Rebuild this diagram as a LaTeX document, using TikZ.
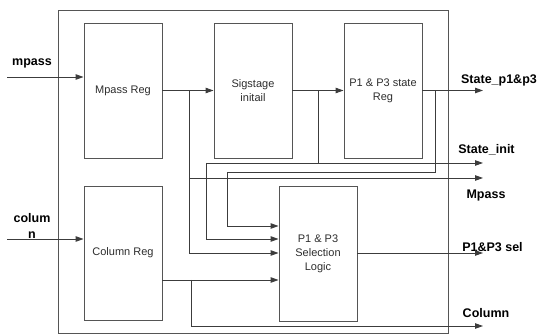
\documentclass[tikz,border=0pt]{standalone}
\usepackage{fontspec}
\setmainfont{Liberation Sans}
\usetikzlibrary{arrows.meta,calc}
\definecolor{wirec}{RGB}{60,60,60}
\definecolor{boxc}{RGB}{85,85,85}
\definecolor{textc}{RGB}{45,45,45}
\begin{document}
\begin{tikzpicture}[x=1pt,y=-1pt,
 wire/.style={draw=wirec, line width=0.9pt},
 arr/.style={wire, -{Triangle[length=8pt,width=5.5pt]}},
 blk/.style={draw=boxc, line width=0.9pt, minimum width=78pt, inner sep=0pt, align=center, font=\fontsize{11}{14}\selectfont, text=textc},
 lbl/.style={font=\bfseries\fontsize{12.5}{16.5}\selectfont, align=center, inner sep=0pt}]
\useasboundingbox (0,0) rectangle (540,336);
% outer frame
\node[draw=boxc, line width=0.9pt, minimum width=390pt, minimum height=323pt, anchor=north west, inner sep=0pt] (outer) at (58,10) {};
% blocks
\node[blk, minimum height=135pt] (mreg) at (123,90.5) {Mpass Reg};
\node[blk, minimum height=135pt] (sig) at (253,90.5) {Sigstage\\initail};
\node[blk, minimum height=135pt] (preg) at (383,90.5) {P1 \& P3 state\\Reg};
\node[blk, minimum height=134pt] (creg) at (123,253) {Column Reg};
\node[blk, minimum height=135pt] (sel) at (318,253.5) {P1 \& P3\\Selection\\Logic};
% labels
\node[lbl] (lmpass) at (32,63) {mpass};
\node[lbl] (lcol) at (32,226) {colum\\n};
\node[lbl] (lsp) at (499,80) {State\_p1\&p3};
\node[lbl] (lsi) at (486.5,150) {State\_init};
\node[lbl] (lmp) at (486,195) {Mpass};
\node[lbl] (lsel) at (492.5,247) {P1\&P3 sel};
\node[lbl] (lcolumn) at (486,313) {Column};
% coordinates
\coordinate (inM) at (7,77);
\coordinate (inC) at (7,239);
\coordinate (oSP) at (483,90.5);
\coordinate (oSI) at (483,163);
\coordinate (oMP) at (483,178);
\coordinate (oSEL) at (483,253);
\coordinate (oCOL) at (483,326);
\coordinate (bM) at (189,90.5);
\coordinate (bS) at (318,90.5);
\coordinate (bP) at (435,90.5);
\coordinate (sI) at (206,163);
\coordinate (pI) at (227,172);
\coordinate (bC) at (191,280);
% inputs
\draw[arr] (inM) -- (inM -| mreg.west);
\draw[arr] (inC) -- (inC -| creg.west);
% chain
\draw[arr] (mreg.east) -- (sig.west);
\draw[arr] (sig.east) -- (preg.west);
\draw[arr] (preg.east) -- (oSP);
% Mpass branch
\draw[arr] (bM) -- (bM |- oSEL) -- (oSEL -| sel.west);
\draw[arr] (bM |- oMP) -- (oMP);
% state init branch
\draw[wire] (bS) -- (bS |- sI);
\draw[arr] (sI) -- (oSI);
\draw[arr] (sI) -- (sI |- 0,239) -- (sel.west |- 0,239);
% P1 state branch
\draw[arr] (bP) -- (bP |- pI) -- (pI) -- (pI |- 0,226) -- (sel.west |- 0,226);
% column
\draw[arr] (creg.east |- bC) -- (sel.west |- bC);
\draw[arr] (bC) -- (bC |- oCOL) -- (oCOL);
% selection output
\draw[arr] (sel.east |- oSEL) -- (oSEL);
\end{tikzpicture}
\end{document}
